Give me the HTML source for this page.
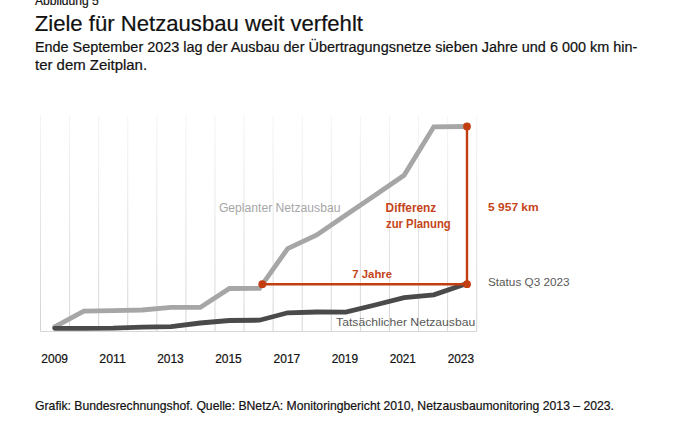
<!DOCTYPE html>
<html><head><meta charset="utf-8"><style>
html,body{margin:0;padding:0;background:#fff;width:675px;height:428px;overflow:hidden}
svg{display:block;font-family:"Liberation Sans",sans-serif}
</style></head><body>
<svg width="675" height="428" viewBox="0 0 675 428">
<defs>
<linearGradient id="gg" gradientUnits="userSpaceOnUse" x1="0" y1="115.5" x2="0" y2="331.5">
<stop offset="0" stop-color="#f5f5f5"/>
<stop offset="1" stop-color="#d4d4d4"/>
</linearGradient>
</defs>
<rect width="675" height="428" fill="#fff"/>
<g>
<g stroke="url(#gg)" stroke-width="1">
<line x1="40.50" y1="115.5" x2="40.50" y2="331.5" /><line x1="69.58" y1="115.5" x2="69.58" y2="331.5" /><line x1="98.66" y1="115.5" x2="98.66" y2="331.5" /><line x1="127.74" y1="115.5" x2="127.74" y2="331.5" /><line x1="156.82" y1="115.5" x2="156.82" y2="331.5" /><line x1="185.90" y1="115.5" x2="185.90" y2="331.5" /><line x1="214.98" y1="115.5" x2="214.98" y2="331.5" /><line x1="244.06" y1="115.5" x2="244.06" y2="331.5" /><line x1="273.14" y1="115.5" x2="273.14" y2="331.5" /><line x1="302.22" y1="115.5" x2="302.22" y2="331.5" /><line x1="331.30" y1="115.5" x2="331.30" y2="331.5" /><line x1="360.38" y1="115.5" x2="360.38" y2="331.5" /><line x1="389.46" y1="115.5" x2="389.46" y2="331.5" /><line x1="418.54" y1="115.5" x2="418.54" y2="331.5" /><line x1="447.62" y1="115.5" x2="447.62" y2="331.5" /><line x1="476.70" y1="115.5" x2="476.70" y2="331.5" />
</g>
<line x1="40.5" y1="331.5" x2="476.70" y2="331.5" stroke="#d6d6d6" stroke-width="1"/>
<polyline points="54.7,326.9 83.8,311.2 112.9,310.6 142.1,310.0 171.2,307.4 200.3,307.4 229.4,288.5 259.5,288.4 287.7,248.6 316.8,235.0 345.9,215.1 375.0,195.2 404.1,175.3 433.8,126.8 467.0,126.5" fill="none" stroke="#a6a6a6" stroke-width="4.8" stroke-linejoin="miter" stroke-linecap="round"/>
<polyline points="54.7,328.3 83.8,328.3 112.9,328.2 142.1,327.1 171.2,326.7 200.3,323.0 229.4,320.5 259.5,320.2 287.7,312.8 316.8,312.0 345.9,312.2 375.0,305.0 404.1,297.6 433.8,294.8 467.0,283.6" fill="none" stroke="#4a4a4a" stroke-width="4.8" stroke-linejoin="miter" stroke-linecap="round"/>
<g stroke="#c23d10" stroke-width="2.4" fill="none">
<line x1="262.3" y1="284.2" x2="467" y2="284.2"/>
<line x1="467" y1="126.4" x2="467" y2="284.2"/>
</g>
<g fill="#c23d10">
<circle cx="262.3" cy="284.2" r="3.9"/>
<circle cx="467" cy="126.4" r="3.9"/>
<circle cx="467" cy="284.2" r="3.9"/>
</g>
</g>
<text id="abb" x="34.99" y="5.20" font-size="12" font-weight="normal" fill="#111" stroke="#111" stroke-width="0.2" textLength="63.79" lengthAdjust="spacingAndGlyphs">Abbildung 5</text>
<text id="title" x="34.71" y="30.80" font-size="21.2" font-weight="normal" fill="#111" stroke="#111" stroke-width="0.2" textLength="328.28" lengthAdjust="spacingAndGlyphs">Ziele für Netzausbau weit verfehlt</text>
<text id="sub1" x="34.92" y="52.10" font-size="14.0" font-weight="normal" fill="#111" stroke="#111" stroke-width="0.2" textLength="602.42" lengthAdjust="spacingAndGlyphs">Ende September 2023 lag der Ausbau der Übertragungsnetze sieben Jahre und 6 000 km hin-</text>
<text id="sub2" x="35.03" y="70.00" font-size="14.0" font-weight="normal" fill="#111" stroke="#111" stroke-width="0.2" textLength="112.05" lengthAdjust="spacingAndGlyphs">ter dem Zeitplan.</text>
<text id="cap" x="35.06" y="410.00" font-size="11.9" font-weight="normal" fill="#111" stroke="#111" stroke-width="0.2" textLength="578.96" lengthAdjust="spacingAndGlyphs">Grafik: Bundesrechnungshof. Quelle: BNetzA: Monitoringbericht 2010, Netzausbaumonitoring 2013 – 2023.</text>
<text id="y0" x="41.36" y="363.00" font-size="12" font-weight="normal" fill="#111" stroke="#111" stroke-width="0.2" textLength="26.67" lengthAdjust="spacingAndGlyphs">2009</text>
<text id="y1" x="99.38" y="363.00" font-size="12" font-weight="normal" fill="#111" stroke="#111" stroke-width="0.2" textLength="26.59" lengthAdjust="spacingAndGlyphs">2011</text>
<text id="y2" x="157.17" y="363.00" font-size="12" font-weight="normal" fill="#111" stroke="#111" stroke-width="0.2" textLength="26.62" lengthAdjust="spacingAndGlyphs">2013</text>
<text id="y3" x="215.17" y="363.00" font-size="12" font-weight="normal" fill="#111" stroke="#111" stroke-width="0.2" textLength="26.61" lengthAdjust="spacingAndGlyphs">2015</text>
<text id="y4" x="273.56" y="363.00" font-size="12" font-weight="normal" fill="#111" stroke="#111" stroke-width="0.2" textLength="26.69" lengthAdjust="spacingAndGlyphs">2017</text>
<text id="y5" x="331.65" y="363.00" font-size="12" font-weight="normal" fill="#111" stroke="#111" stroke-width="0.2" textLength="26.40" lengthAdjust="spacingAndGlyphs">2019</text>
<text id="y6" x="389.65" y="363.00" font-size="12" font-weight="normal" fill="#111" stroke="#111" stroke-width="0.2" textLength="26.30" lengthAdjust="spacingAndGlyphs">2021</text>
<text id="y7" x="447.66" y="363.00" font-size="12" font-weight="normal" fill="#111" stroke="#111" stroke-width="0.2" textLength="26.39" lengthAdjust="spacingAndGlyphs">2023</text>
<text id="gep" x="218.92" y="212.00" font-size="12" font-weight="normal" fill="#a6a6a6" textLength="121.49" lengthAdjust="spacingAndGlyphs">Geplanter Netzausbau</text>
<text id="tat" x="336.11" y="326.00" font-size="11.8" font-weight="normal" fill="#595959" textLength="139.08" lengthAdjust="spacingAndGlyphs">Tatsächlicher Netzausbau</text>
<text id="stat" x="487.95" y="285.70" font-size="11.7" font-weight="normal" fill="#595959" textLength="81.70" lengthAdjust="spacingAndGlyphs">Status Q3 2023</text>
<text id="diff" x="385.61" y="212.00" font-size="12" font-weight="bold" fill="#c4441a" textLength="50.65" lengthAdjust="spacingAndGlyphs">Differenz</text>
<text id="zur" x="385.98" y="227.80" font-size="12" font-weight="bold" fill="#c4441a" textLength="64.83" lengthAdjust="spacingAndGlyphs">zur Planung</text>
<text id="km" x="488.12" y="210.90" font-size="11.5" font-weight="bold" fill="#c4441a" textLength="50.55" lengthAdjust="spacingAndGlyphs">5 957 km</text>
<text id="jahre" x="352.37" y="277.90" font-size="11.7" font-weight="bold" fill="#c4441a" textLength="39.63" lengthAdjust="spacingAndGlyphs">7 Jahre</text>
</svg>
</body></html>
